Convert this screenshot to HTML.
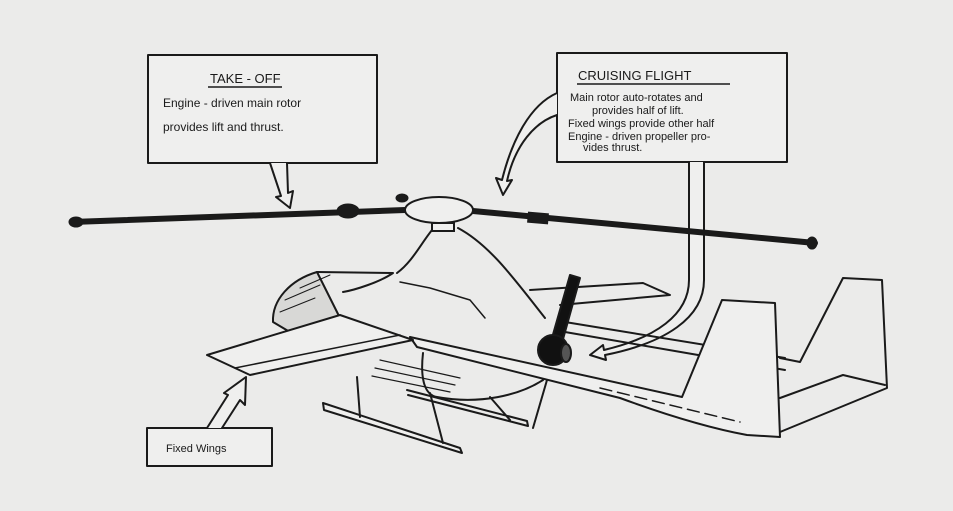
<!DOCTYPE html>
<html><head><meta charset="utf-8"><style>
html,body{margin:0;padding:0;background:#ebebea;}
svg{display:block}
text{font-family:"Liberation Sans",sans-serif;fill:#1a1a1a}
</style></head><body>
<svg width="953" height="511" viewBox="0 0 953 511" xmlns="http://www.w3.org/2000/svg">
<rect width="953" height="511" fill="#ebebea"/>
<g fill="none" stroke="#1a1a1a" stroke-width="2" stroke-linejoin="round" stroke-linecap="round">
<!-- Take-off box -->
<rect x="148" y="55" width="229" height="108" fill="#efefee"/>
<path d="M270 163 L281 196 L276 197 L290 208 L293 191 L288 193 L287 163" fill="#efefee"/>
<!-- Cruising box -->
<rect x="557" y="53" width="230" height="109" fill="#efefee"/>
<path d="M557 93 C530 105 512 140 502 180 L496 178 L503 195 L512 180 L507 181 C515 145 535 122 557 115" fill="#efefee"/>
<path d="M689 162 L689 280 C689 315 655 338 604 350 L603 345 L590 355 L606 360 L605 355 C665 343 704 318 704 280 L704 162" fill="#efefee"/>

<!-- rear wing -->
<path d="M530 290 L643 283 L670 295 L560 305"/>
<!-- far tail fin & horizontal tail -->
<path d="M780 358 L800 362 L843 278 L882 280 L887 388 L780 432"/>
<path d="M780 398 L843 375 L885 385"/>
<path d="M565 322 L785 358"/><path d="M565 332 L785 370"/>
<!-- body hump -->
<path d="M432 230 C420 245 412 262 397 273"/>
<path d="M458 228 C490 245 515 280 545 318"/>
<path d="M400 282 L430 288 L470 300 L485 318" stroke-width="1.5"/>
<!-- nose cowl -->
<path d="M317 272 C290 280 272 300 273 322 L300 338 L340 318 Z" fill="#d8d8d6"/>
<path d="M317 272 L393 273 C380 282 355 290 343 292"/>
<path d="M300 288 L330 275 M285 300 L320 285 M280 312 L315 298" stroke-width="1"/>
<!-- belly -->
<path d="M423 353 C420 380 425 395 437 397 C480 405 520 395 543 380"/>
<path d="M380 360 L460 378 M375 368 L455 385 M372 376 L450 392" stroke-width="1.2"/>
<!-- tail boom -->
<path d="M410 337 L682 397 L722 300 L775 303 L780 437 L747 435 C720 430 680 420 620 398 L417 347 Z" fill="#efefee"/>
<path d="M600 388 L740 422" stroke-dasharray="12 6" stroke-width="1.5"/>
<!-- left wing -->
<path d="M207 355 L340 315 L413 340 L250 375 Z" fill="#efefee"/>
<path d="M235 368 L400 335" stroke-width="1.5"/>
<!-- skids -->
<path d="M323 403 L460 448 L462 453 L324 410 Z" fill="#efefee"/>
<path d="M357 377 L360 417 M430 393 L443 443 M490 397 L510 420"/>
<path d="M407 390 L527 421 L528 426 L408 395"/>
<!-- propeller -->
<path d="M547 380 L533 428"/>
<path d="M570 275 L580 278 L560 350 L550 345 Z" fill="#111"/>
<circle cx="553" cy="350" r="15" fill="#111"/>
<ellipse cx="566" cy="353" rx="5" ry="9" fill="#555"/>
<!-- Fixed wings box -->
<rect x="147" y="428" width="125" height="38" fill="#efefee"/>
<path d="M207 428 L228 395 L224 393 L246 377 L245 405 L240 400 L222 428" fill="#efefee"/>
</g>
<!-- rotor -->
<g stroke="#1a1a1a" stroke-linecap="round">
<line x1="72" y1="222" x2="405" y2="210" stroke-width="6"/>
<ellipse cx="76" cy="222" rx="7" ry="5" fill="#1a1a1a"/>
<ellipse cx="348" cy="211" rx="11" ry="7" fill="#1a1a1a"/>
<ellipse cx="402" cy="198" rx="6" ry="4" fill="#1a1a1a"/>
<line x1="473" y1="211" x2="815" y2="243" stroke-width="6"/>
<rect x="528" y="213" width="20" height="10" fill="#1a1a1a" transform="rotate(5 538 218)"/>
<ellipse cx="812" cy="243" rx="5" ry="6" fill="#1a1a1a"/>
<ellipse cx="439" cy="210" rx="34" ry="13" fill="#efefee" stroke-width="2"/>
<rect x="432" y="223" width="22" height="8" fill="#efefee" stroke-width="2"/>
</g>
<text x="210" y="83" font-size="13">TAKE - OFF</text>
<line x1="208" y1="87" x2="282" y2="87" stroke="#1a1a1a" stroke-width="1.5"/>
<text x="163" y="107" font-size="12">Engine - driven main rotor</text>
<text x="163" y="131" font-size="12">provides lift and thrust.</text>
<text x="578" y="80" font-size="13">CRUISING  FLIGHT</text>
<line x1="577" y1="84" x2="730" y2="84" stroke="#1a1a1a" stroke-width="1.5"/>
<text x="570" y="101" font-size="11">Main rotor auto-rotates and</text>
<text x="592" y="114" font-size="11">provides  half of lift.</text>
<text x="568" y="127" font-size="11">Fixed wings provide other half</text>
<text x="568" y="140" font-size="11">Engine - driven propeller pro-</text>
<text x="583" y="151" font-size="11">vides thrust.</text>
<text x="166" y="452" font-size="11">Fixed Wings</text>
</svg>
</body></html>
